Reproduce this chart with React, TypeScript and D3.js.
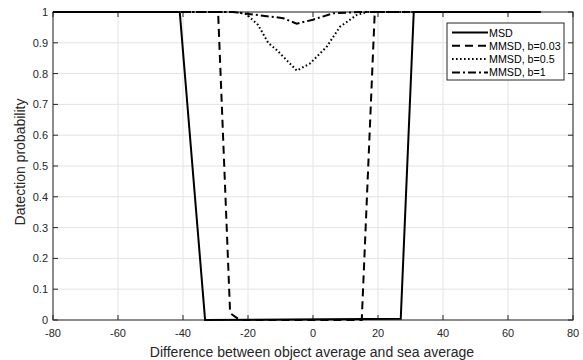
import React from "react";
import * as d3 from "d3";

const xTicks = [-80, -60, -40, -20, 0, 20, 40, 60, 80];
const yTicks = [0, 0.1, 0.2, 0.3, 0.4, 0.5, 0.6, 0.7, 0.8, 0.9, 1];

const msdX = [-80, -41, -33.2, 27, 31, 70];
const msdY = [1, 1, 0, 0.004, 1, 1];

const b003X = [-80, -29.2, -25.5, -22.5, 15, 19, 70];
const b003Y = [1, 1, 0.022, 0, 0, 1, 1];

const b05X = [-80, -24, -20.5, -16.9, -13.8, -11.1, -5, -0.9, 4.2, 8.3, 13.4, 16.5, 70];
const b05Y = [1, 1, 0.993, 0.958, 0.9, 0.876, 0.81, 0.833, 0.887, 0.952, 0.99, 1, 1];

const b1X = [-80, -24.5, -21.5, -9.2, -5, 0, 6.2, 14.5, 70];
const b1Y = [1, 1, 0.996, 0.98, 0.962, 0.975, 0.996, 1, 1];

const seriesNames = ["MSD", "MMSD, b=0.03", "MMSD, b=0.5", "MMSD, b=1"];
const dashes = ["", "8,5", "1.6,2.4", "8,3,2,3"];

export default function App() {
  const W = 583, H = 360;
  const L = 53, R = 573, T = 12, B = 320;
  const x = d3.scaleLinear().domain([-80, 80]).range([L, R]);
  const y = d3.scaleLinear().domain([0, 1]).range([B, T]);
  const line = d3.line<[number, number]>().x(d => x(d[0])).y(d => y(d[1]));
  const series = [
    [msdX, msdY],
    [b003X, b003Y],
    [b05X, b05Y],
    [b1X, b1Y],
  ].map(([xs, ys]) => xs.map((v, i) => [v, ys[i]] as [number, number]));
  const font = "Arial, 'Liberation Sans', Helvetica, sans-serif";
  const axisCol = "#262626";
  const tl = 5;
  const lgX = 447, lgY = 23, lgW = 117, lgH = 57;
  return (
    <svg width={W} height={H} style={{ position: "absolute", left: 0, top: 0, background: "#fff" }} fontFamily={font}>
      <rect x={0} y={0} width={W} height={H} fill="#fff" />
      {xTicks.map(t => (
        <line key={"gx" + t} x1={x(t)} x2={x(t)} y1={T} y2={B} stroke="#e3e3e3" strokeWidth={1} />
      ))}
      {yTicks.map(t => (
        <line key={"gy" + t} x1={L} x2={R} y1={y(t)} y2={y(t)} stroke="#e3e3e3" strokeWidth={1} />
      ))}
      <rect x={L} y={T} width={R - L} height={B - T} fill="none" stroke={axisCol} strokeWidth={1} />
      {xTicks.map(t => (
        <g key={"tx" + t}>
          <line x1={x(t)} x2={x(t)} y1={B} y2={B - tl} stroke={axisCol} />
          <line x1={x(t)} x2={x(t)} y1={T} y2={T + tl} stroke={axisCol} />
          <text x={x(t)} y={B + 17} fontSize={11} textAnchor="middle" fill={axisCol}>{t}</text>
        </g>
      ))}
      {yTicks.map(t => (
        <g key={"ty" + t}>
          <line x1={L} x2={L + tl} y1={y(t)} y2={y(t)} stroke={axisCol} />
          <line x1={R} x2={R - tl} y1={y(t)} y2={y(t)} stroke={axisCol} />
          <text x={L - 5} y={y(t) + 4} fontSize={11} textAnchor="end" fill={axisCol}>{t}</text>
        </g>
      ))}
      {series.map((s, i) => (
        <path key={"s" + i} d={line(s) || ""} fill="none" stroke="#000" strokeWidth={2} strokeDasharray={dashes[i] || undefined} />
      ))}
      <text x={312} y={357} fontSize={14} textAnchor="middle" fill={axisCol}>
        Difference between object average and sea average
      </text>
      <text transform={`translate(25, 162) rotate(-90)`} fontSize={14} textAnchor="middle" fill={axisCol}>
        Datection probability
      </text>
      <rect x={lgX} y={lgY} width={lgW} height={lgH} fill="#fff" stroke={axisCol} strokeWidth={1} />
      {seriesNames.map((n, i) => {
        const yy = lgY + 9.5 + i * 13.3;
        return (
          <g key={"lg" + i}>
            <line x1={452} x2={488} y1={yy} y2={yy} stroke="#000" strokeWidth={2} strokeDasharray={dashes[i] || undefined} />
            <text x={489} y={yy + 4} fontSize={10.7} fill="#000">{n}</text>
          </g>
        );
      })}
    </svg>
  );
}
